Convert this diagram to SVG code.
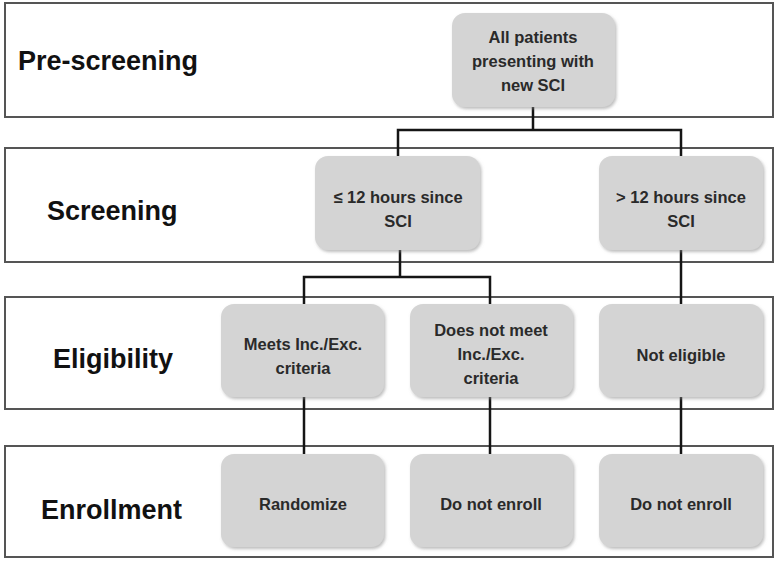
<svg xmlns="http://www.w3.org/2000/svg" width="779" height="566" viewBox="0 0 779 566">
  <defs>
    <filter id="sh" x="-10%" y="-10%" width="125%" height="125%">
      <feDropShadow dx="1.5" dy="2" stdDeviation="1.5" flood-color="#888" flood-opacity="0.55"/>
    </filter>
  </defs>
  <style>
    .band { fill: #fff; stroke: #555; stroke-width: 2; }
    .lane { font-family: "Liberation Sans", Arial, sans-serif; font-weight: bold; font-size: 27px; fill: #111; }
    .box { fill: #d4d4d4; stroke: none; filter: url(#sh); }
    .t { font-family: "Liberation Sans", Arial, sans-serif; font-weight: bold; font-size: 16.5px; fill: #2a2a2a; text-anchor: middle; }
    .conn { fill: none; stroke: #151515; stroke-width: 2.5; }
  </style>
  <rect width="779" height="566" fill="#fff"/>

  <g id="lanes">
    <rect class="band" x="5" y="3" width="768" height="114"/>
    <rect class="band" x="5" y="148" width="768" height="114"/>
    <rect class="band" x="5" y="297" width="768" height="112"/>
    <rect class="band" x="5" y="446" width="768" height="111"/>
    <text class="lane" x="18" y="70">Pre-screening</text>
    <text class="lane" x="47" y="220">Screening</text>
    <text class="lane" x="53" y="368">Eligibility</text>
    <text class="lane" x="41" y="519">Enrollment</text>
  </g>

  <g id="connectors">
    <path class="conn" d="M533 107 V130 M398 156 V130 H681 V156"/>
    <path class="conn" d="M400 250 V277 M304 304 V277 H490 V304"/>
    <path class="conn" d="M681 250 V304"/>
    <path class="conn" d="M304 397 V454"/>
    <path class="conn" d="M490 397 V454"/>
    <path class="conn" d="M681 397 V454"/>
  </g>

  <g id="n-all">
    <rect class="box" x="452" y="13" width="163" height="94" rx="13"/>
    <text class="t" x="533" y="43">All patients</text>
    <text class="t" x="533" y="67">presenting with</text>
    <text class="t" x="533" y="91">new SCI</text>
  </g>
  <g id="n-le12">
    <rect class="box" x="315" y="156" width="165" height="94" rx="13"/>
    <text class="t" x="398" y="203">≤ 12 hours since</text>
    <text class="t" x="398" y="227">SCI</text>
  </g>
  <g id="n-gt12">
    <rect class="box" x="599" y="156" width="164" height="94" rx="13"/>
    <text class="t" x="681" y="203">&gt; 12 hours since</text>
    <text class="t" x="681" y="227">SCI</text>
  </g>
  <g id="n-meets">
    <rect class="box" x="221" y="304" width="163" height="93" rx="13"/>
    <text class="t" x="303" y="350">Meets Inc./Exc.</text>
    <text class="t" x="303" y="374">criteria</text>
  </g>
  <g id="n-notmeet">
    <rect class="box" x="410" y="304" width="163" height="93" rx="13"/>
    <text class="t" x="491" y="336">Does not meet</text>
    <text class="t" x="491" y="360">Inc./Exc.</text>
    <text class="t" x="491" y="384">criteria</text>
  </g>
  <g id="n-noteligible">
    <rect class="box" x="599" y="304" width="164" height="93" rx="13"/>
    <text class="t" x="681" y="361">Not eligible</text>
  </g>
  <g id="n-randomize">
    <rect class="box" x="221" y="454" width="163" height="93" rx="13"/>
    <text class="t" x="303" y="510">Randomize</text>
  </g>
  <g id="n-donot1">
    <rect class="box" x="410" y="454" width="163" height="93" rx="13"/>
    <text class="t" x="491" y="510">Do not enroll</text>
  </g>
  <g id="n-donot2">
    <rect class="box" x="599" y="454" width="164" height="93" rx="13"/>
    <text class="t" x="681" y="510">Do not enroll</text>
  </g>
</svg>
